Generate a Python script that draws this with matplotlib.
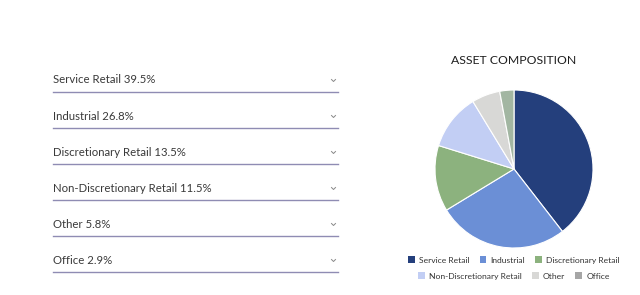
import matplotlib.pyplot as plt
from matplotlib.patches import Patch

categories = ['Service Retail', 'Industrial', 'Discretionary Retail',
              'Non-Discretionary Retail', 'Other', 'Office']
shares = [39.5, 26.8, 13.5, 11.5, 5.8, 2.9]
colors = ['#243f7c', '#6b8fd6', '#8cb27e', '#c2cef4', '#d8d8d6', '#a2b6a2']
legend_colors = ['#243f7c', '#6b8fd6', '#8cb27e', '#c2cef4', '#d8d8d6', '#a6a6a6']

plt.rcParams['font.family'] = ['Lato', 'DejaVu Sans']

fig = plt.figure(figsize=(6.4, 2.95), dpi=100)

# left list of categories with underline rules
W, H = 640.0, 295.0
for i, (c, s) in enumerate(zip(categories, shares)):
    y_text = 80 + i * 36
    y_line = 92 + i * 36
    fig.text(53 / W, 1 - y_text / H, f'{c} {s}%', fontsize=8.2, color='#3a3a3a',
             va='center', ha='left')
    # small chevron
    fig.add_artist(plt.Line2D([331.5 / W, 333.5 / W, 335.5 / W],
                              [1 - (y_text - 0.5) / H, 1 - (y_text + 1.5) / H, 1 - (y_text - 0.5) / H],
                              color='#888888', lw=0.7))
    fig.add_artist(plt.Line2D([53 / W, 338 / W], [1 - y_line / H] * 2,
                              color='#8f8cb3', lw=1.0))

# pie
ax = fig.add_axes([(514 - 79) / W, (H - 248) / H, 158 / W, 158 / H])
ax.pie(shares, colors=colors, startangle=90, counterclock=False,
       wedgeprops=dict(edgecolor='white', linewidth=0.8))
ax.set_xlim(-1, 1)
ax.set_ylim(-1, 1)
ax.set_aspect('equal')

fig.text(514 / W, 1 - 61 / H, 'ASSET COMPOSITION', fontsize=8.8, color='#1e1e1e',
         ha='center', va='center')

handles = [Patch(facecolor=legend_colors[i], label=categories[i]) for i in range(6)]
kw = dict(ncol=3, loc='center', frameon=False, fontsize=6.1, handlelength=0.8,
          handleheight=0.8, handletextpad=0.5, columnspacing=1.2, borderpad=0,
          labelcolor='#333333')
fig.legend(handles=handles[:3], bbox_to_anchor=(514 / W, 1 - 260 / H), **kw)
fig.legend(handles=handles[3:], bbox_to_anchor=(514 / W, 1 - 276 / H), **kw)

fig.savefig('out.png', dpi=100)
